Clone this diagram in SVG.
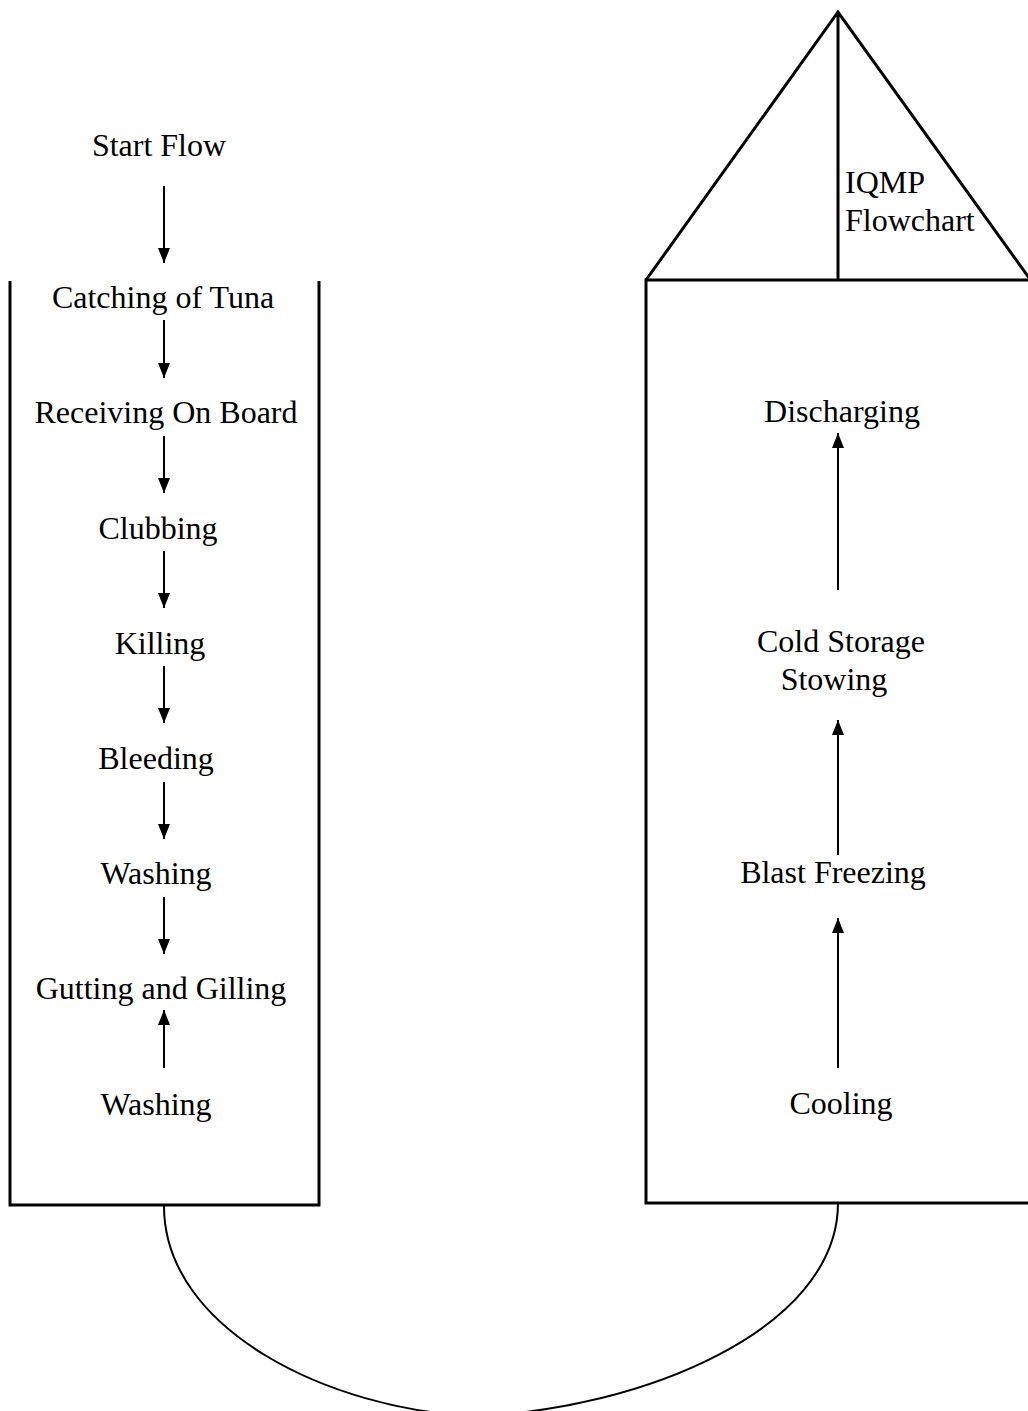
<svg xmlns="http://www.w3.org/2000/svg" width="1028" height="1411" viewBox="0 0 1028 1411">
<style>
text{font-family:"Liberation Serif","Times New Roman",serif;font-size:32px;fill:#000}
.c{text-anchor:middle}
.box{fill:none;stroke:#000;stroke-width:3}
.arr{fill:none;stroke:#000;stroke-width:2}
</style>
<defs>
<marker id="ah" viewBox="0 0 15 12" refX="15" refY="6" markerWidth="15" markerHeight="12" markerUnits="userSpaceOnUse" orient="auto"><path d="M0,0 L15,6 L0,12 Z" fill="#000"/></marker>
</defs>
<rect width="1028" height="1411" fill="#fff"/>
<g id="left-box"><path class="box" d="M10,281 V1205 H319 V281"/></g>
<g id="right-box"><path class="box" d="M1030,280 H646 V1203 H1030"/></g>
<g id="roof"><path class="box" d="M646,280 L838,12 L1032,282 M838,12 V280"/>
<text x="845" y="193">IQMP</text><text x="845" y="231">Flowchart</text></g>
<g id="n-start"><text class="c" x="159" y="156">Start Flow</text></g>
<g id="n-catch"><text class="c" x="163" y="308">Catching of Tuna</text></g>
<g id="n-recv"><text class="c" x="166" y="423">Receiving On Board</text></g>
<g id="n-club"><text class="c" x="158" y="539">Clubbing</text></g>
<g id="n-kill"><text class="c" x="160" y="654">Killing</text></g>
<g id="n-bleed"><text class="c" x="156" y="769">Bleeding</text></g>
<g id="n-wash1"><text class="c" x="156" y="884">Washing</text></g>
<g id="n-gut"><text class="c" x="161" y="999">Gutting and Gilling</text></g>
<g id="n-wash2"><text class="c" x="156" y="1115">Washing</text></g>
<g id="n-disch"><text class="c" x="842" y="422">Discharging</text></g>
<g id="n-cold"><text class="c" x="841" y="652">Cold Storage</text><text class="c" x="834" y="690">Stowing</text></g>
<g id="n-blast"><text class="c" x="833" y="883">Blast Freezing</text></g>
<g id="n-cool"><text class="c" x="841" y="1114">Cooling</text></g>
<g id="connectors">
<line class="arr" x1="164" y1="186" x2="164" y2="263" marker-end="url(#ah)"/>
<line class="arr" x1="164" y1="320" x2="164" y2="378" marker-end="url(#ah)"/>
<line class="arr" x1="164" y1="436" x2="164" y2="493" marker-end="url(#ah)"/>
<line class="arr" x1="164" y1="551" x2="164" y2="608" marker-end="url(#ah)"/>
<line class="arr" x1="164" y1="666" x2="164" y2="723" marker-end="url(#ah)"/>
<line class="arr" x1="164" y1="782" x2="164" y2="839" marker-end="url(#ah)"/>
<line class="arr" x1="164" y1="897" x2="164" y2="954" marker-end="url(#ah)"/>
<line class="arr" x1="164" y1="1068" x2="164" y2="1010" marker-end="url(#ah)"/>
<line class="arr" x1="838" y1="590" x2="838" y2="433" marker-end="url(#ah)"/>
<line class="arr" x1="838" y1="855" x2="838" y2="720" marker-end="url(#ah)"/>
<line class="arr" x1="838" y1="1068" x2="838" y2="918" marker-end="url(#ah)"/>
<path class="arr" stroke-width="2.2" d="M164,1206 C164,1330 330,1410 475,1416 C640,1410 838,1330 838,1203"/>
</g>
</svg>
